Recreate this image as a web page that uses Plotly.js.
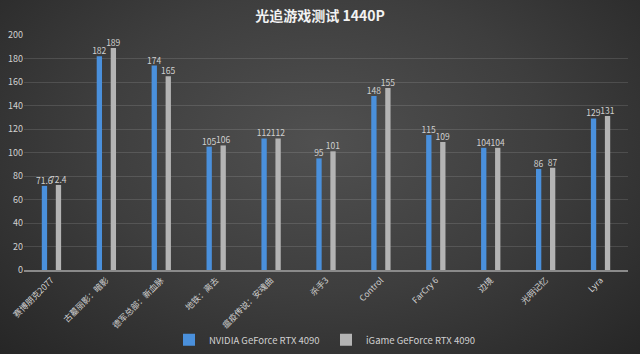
<!DOCTYPE html>
<html><head><meta charset="utf-8">
<script src="https://cdn.plot.ly/plotly-3.0.1.min.js"></script>
<style>
html,body{margin:0;padding:0;}
#bg{width:640px;height:354px;background:radial-gradient(ellipse at 50% 40%, #505050 0%, #3e3e3e 50%, #262626 100%);}
</style></head>
<body><div id="bg"><div id="chart" style="width:640px;height:354px;"></div></div>
<script>
const categories = ["赛博朋克2077","古墓丽影：暗影","德军总部：新血脉","地铁：离去","瘟疫传说：安魂曲","杀手3","Control","FarCry 6","边境","光明记忆","Lyra"];
const nvidia = [71.6,182,174,105,112,95,148,115,104,86,129];
const igame = [72.4,189,165,106,112,101,155,109,104,87,131];
const seriesNames = ["NVIDIA GeForce RTX 4090","iGame GeForce RTX 4090"];
const yTicks = [0,20,40,60,80,100,120,140,160,180,200];

const labelFont = {family:"Noto Sans CJK SC, Noto Sans, sans-serif", size:8.5, color:"#d0d0d0"};
const traces = [
 {type:"bar", name:seriesNames[0], x:categories, y:nvidia, marker:{color:"#4a90dc"},
  text:nvidia.map(String), textposition:"outside", constraintext:"none", cliponaxis:false, textfont:labelFont},
 {type:"bar", name:seriesNames[1], x:categories, y:igame, marker:{color:"#b4b4b4"},
  text:igame.map(String), textposition:"outside", constraintext:"none", cliponaxis:false, textfont:labelFont}
];
const layout = {
 width:640, height:354,
 paper_bgcolor:"rgba(0,0,0,0)", plot_bgcolor:"rgba(0,0,0,0)",
 margin:{l:24,r:12,t:35,b:84, autoexpand:false},
 title:{text:"<b>光追游戏测试 1440P</b>", x:0.5, y:0.955, xanchor:"center", yanchor:"middle",
  font:{family:"Noto Sans CJK SC, sans-serif", size:14, color:"#f2f2f2"}},
 barmode:"group", bargap:0.49, bargroupgap:0.62,
 font:{family:"Noto Sans CJK SC, Noto Sans, sans-serif", color:"#d0d0d0", size:9},
 xaxis:{automargin:false, tickangle:-45, tickfont:{size:8.5,color:"#d0d0d0"}, showline:true, linecolor:"#8a8a8a", linewidth:2, ticks:"", showgrid:false},
 yaxis:{automargin:false, range:[0,200], tickvals:yTicks, tickfont:{size:9,color:"#d0d0d0"}, gridcolor:"rgba(255,255,255,0.12)", zeroline:false, showline:false, ticks:""},
 showlegend:true,
 legend:{orientation:"h", x:0.5, xanchor:"center", yref:"container", y:0.04, yanchor:"middle", font:{size:9.5,color:"#d0d0d0"}, itemwidth:30, entrywidth:112, tracegroupgap:0}
};
Plotly.newPlot("chart", traces, layout, {displayModeBar:false, staticPlot:true});
</script></body></html>
